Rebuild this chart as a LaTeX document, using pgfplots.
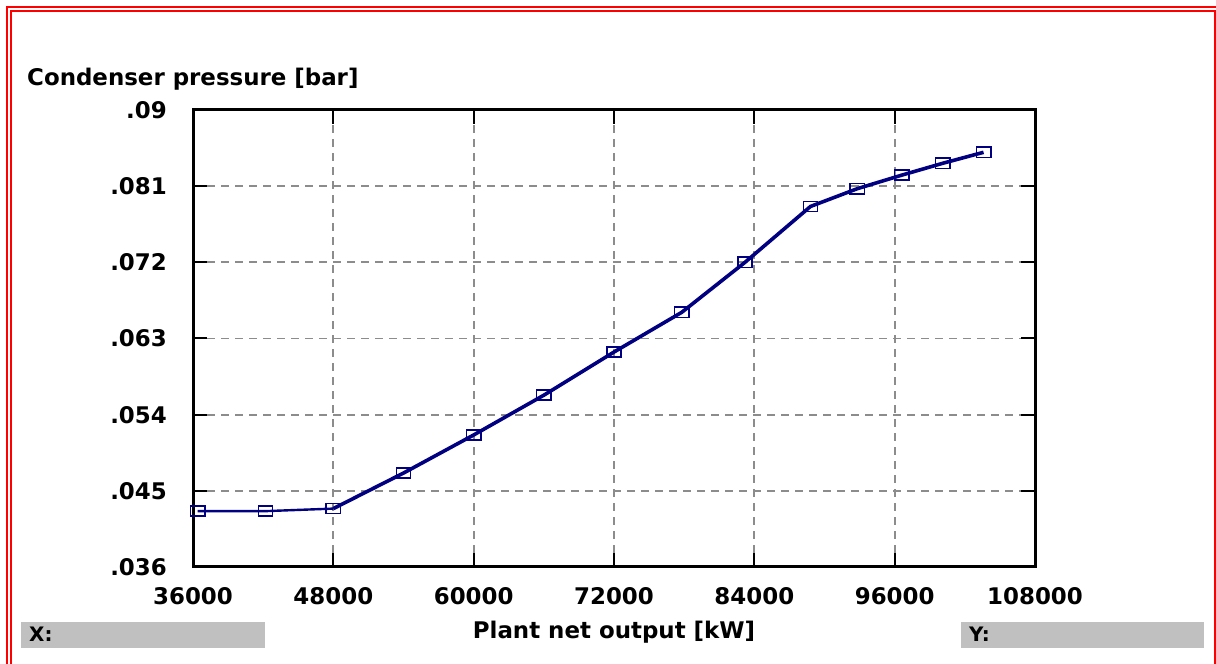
\documentclass[border=0pt]{standalone}
\usepackage{pgfplots}
\pgfplotsset{compat=1.18}
\usepackage{fontspec}
\setmainfont{DejaVu Sans}
\definecolor{navyline}{HTML}{000080}
\definecolor{gridgray}{HTML}{8C8C8C}
\definecolor{boxgray}{HTML}{C0C0C0}
\begin{document}
\begin{tikzpicture}[x=1bp,y=1bp,font=\fontsize{23}{27}\selectfont\bfseries]
\useasboundingbox (0,0) rectangle (1216,664);
\fill[white] (0,0) rectangle (1216,664);
% red border
\draw[red,line width=1.6bp] (7,0) -- (7,657) -- (1216,657);
\draw[red,line width=1.6bp] (11,0) -- (11,653) -- (1215,653) -- (1215,0);
% status boxes
\fill[boxgray] (21,16) rectangle (265,42);
\fill[boxgray] (961,16) rectangle (1204,42);
\node[anchor=base west,inner sep=0pt,font=\fontsize{20}{24}\selectfont\bfseries] at (29,22) {X:};
\node[anchor=base west,inner sep=0pt,font=\fontsize{20}{24}\selectfont\bfseries] at (969,22) {Y:};
% labels
\node[anchor=base west,inner sep=0pt] at (27,578) {Condenser pressure [bar]};
\node[anchor=base,inner sep=0pt] at (614,25) {Plant net output [kW]};
\begin{axis}[
  at={(193bp,97bp)}, anchor=south west,
  scale only axis, width=842bp, height=457bp,
  xmin=36000, xmax=108000, ymin=0.036, ymax=0.09,
  scaled ticks=false,
  xtick={36000,48000,60000,72000,84000,96000,108000},
  xticklabels={36000,48000,60000,72000,84000,96000,108000},
  ytick={0.036,0.045,0.054,0.063,0.072,0.081,0.09},
  yticklabels={.036,.045,.054,.063,.072,.081,.09},
  xticklabel style={anchor=base,inner sep=0pt,yshift=-38bp},
  yticklabel style={anchor=east,inner sep=0pt,xshift=-26bp},
  grid=major,
  major grid style={gridgray,line width=1.8bp,dash pattern=on 8bp off 6bp},
  axis line style={black,line width=3bp},
  tick style={black,line width=2bp},
  major tick length=14bp,
  tick align=inside,
  clip=false,
]
% low-load part (thinner line)
\addplot[navyline,line width=2.4bp,mark=square,mark size=6.5bp,
  mark options={solid,line width=1.6bp,fill=none,xscale=1.1,yscale=0.78}]
  coordinates {
  (36400,0.0426)
  (42200,0.0426)
  (48000,0.0429)
  };
\addplot[navyline,line width=3.6bp,mark=square,mark size=6.5bp,
  mark options={solid,line width=1.6bp,fill=none,xscale=1.1,yscale=0.78}]
  coordinates {
  (48000,0.0429)
  (54000,0.0471)
  (60000,0.0516)
  (66000,0.0563)
  (72000,0.0614)
  (77800,0.0661)
  (83200,0.0720)
  (88800,0.0786)
  (92800,0.0807)
  (96600,0.0823)
  (100100,0.0837)
  (103600,0.0850)
  };
\end{axis}
\end{tikzpicture}
\end{document}
